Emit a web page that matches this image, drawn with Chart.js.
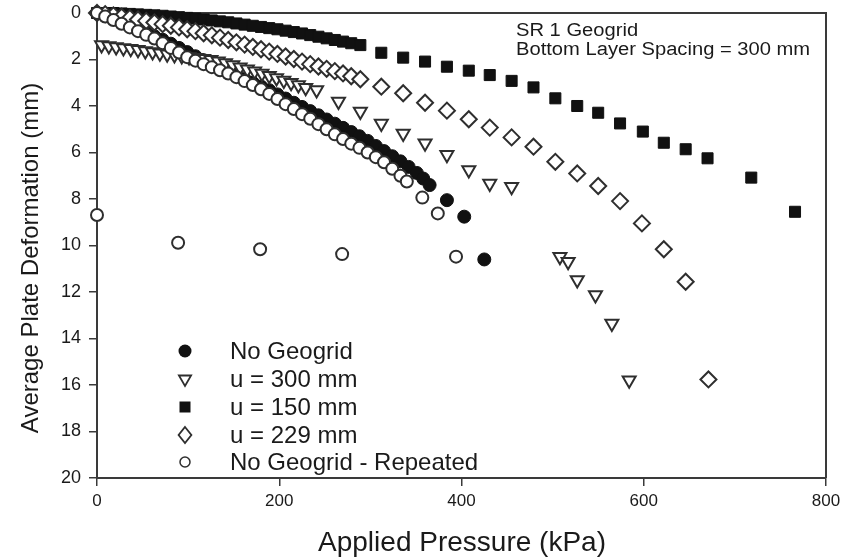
<!DOCTYPE html>
<html>
<head>
<meta charset="utf-8">
<script src="https://cdn.jsdelivr.net/npm/chart.js@4.4.1/dist/chart.umd.min.js"></script>
<style>
  html, body { margin: 0; padding: 0; background: #ffffff; }
  #wrap { width: 844px; height: 560px; position: relative; }
</style>
</head>
<body>
<div id="wrap"><canvas id="c" width="844" height="560"></canvas></div>
<script>
// ---- Data (Applied Pressure kPa, Average Plate Deformation mm) ----
const xTicks = [0, 200, 400, 600, 800];
const yTicks = [0, 2, 4, 6, 8, 10, 12, 14, 16, 18, 20];

const seriesNames = ["No Geogrid", "u = 300 mm", "u = 150 mm", "u = 229 mm", "No Geogrid - Repeated"];

const noGeoP = [0,9,18,27,36,45,54,63,72,81,90,99,108,117,126,135,144,153,162,171,180,189,198,207,216,225,234,243,252,261,270,279,288,297,306,315,324,333,342,351,358,365,384,403,425];
const noGeoD = [0,0.12,0.25,0.4,0.55,0.7,0.85,1.0,1.15,1.32,1.5,1.68,1.86,2.03,2.2,2.36,2.52,2.68,2.84,3.0,3.16,3.32,3.5,3.68,3.86,4.04,4.22,4.4,4.58,4.76,4.94,5.12,5.3,5.5,5.72,5.94,6.16,6.38,6.62,6.88,7.12,7.4,8.05,8.76,10.6];

const u300P = [5,13,21,29,37,45,53,61,69,77,85,93,101,109,117,125,133,141,149,157,165,173,181,189,197,205,213,221,229,241,265,289,312,336,360,384,408,431,455,508,517,527,547,565,584];
const u300D = [1.38,1.42,1.46,1.5,1.54,1.58,1.63,1.68,1.73,1.77,1.81,1.85,1.89,1.93,1.97,2.01,2.07,2.15,2.24,2.33,2.42,2.51,2.6,2.7,2.8,2.9,3.0,3.1,3.22,3.31,3.81,4.24,4.75,5.18,5.6,6.1,6.75,7.33,7.47,10.48,10.7,11.48,12.13,13.35,15.8];

const u150P = [0,9,18,27,36,45,54,63,72,81,90,99,108,117,126,135,144,153,162,171,180,189,198,207,216,225,234,243,252,261,270,279,289,312,336,360,384,408,431,455,479,503,527,550,574,599,622,646,670,718,766];
const u150D = [0,0,0,0.02,0.04,0.06,0.08,0.1,0.12,0.15,0.18,0.21,0.24,0.28,0.32,0.36,0.4,0.45,0.5,0.55,0.6,0.65,0.7,0.76,0.82,0.88,0.95,1.02,1.09,1.16,1.23,1.3,1.38,1.71,1.92,2.09,2.31,2.48,2.67,2.92,3.2,3.67,4.0,4.29,4.75,5.1,5.58,5.86,6.25,7.08,8.55];

const u229P = [0,9,18,27,36,45,54,63,72,81,90,99,108,117,126,135,144,153,162,171,180,189,198,207,216,225,234,243,252,261,270,279,289,312,336,360,384,408,431,455,479,503,527,550,574,598,622,646,671];
const u229D = [0,0.05,0.1,0.16,0.22,0.28,0.34,0.41,0.48,0.55,0.62,0.7,0.78,0.87,0.96,1.06,1.16,1.26,1.36,1.46,1.56,1.66,1.76,1.87,1.98,2.09,2.2,2.3,2.4,2.5,2.6,2.72,2.85,3.17,3.45,3.86,4.2,4.57,4.93,5.35,5.75,6.4,6.9,7.44,8.09,9.05,10.16,11.56,15.76];

const repP = [0,9,18,27,36,45,54,63,72,81,90,99,108,117,126,135,144,153,162,171,180,189,198,207,216,225,234,243,252,261,270,279,288,297,306,315,324,333,340,357,374,0,89,179,269,394];
const repD = [0,0.15,0.3,0.46,0.62,0.78,0.94,1.1,1.3,1.5,1.7,1.9,2.05,2.2,2.33,2.46,2.6,2.76,2.93,3.1,3.28,3.48,3.7,3.92,4.13,4.35,4.55,4.78,5.0,5.22,5.42,5.62,5.8,6.0,6.2,6.42,6.7,7.0,7.25,7.94,8.62,8.69,9.88,10.16,10.37,10.48];

const noteLines = ["SR 1 Geogrid", "Bottom Layer Spacing = 300 mm"];
const xTitle = "Applied Pressure (kPa)";
const yTitle = "Average Plate Deformation (mm)";

const pts = (P, D) => P.map((p, i) => ({ x: p, y: D[i] }));

const INK = "#111111";
const EDGE = "#2e2e2e";
const FONT = "'Liberation Sans', Arial, Helvetica, sans-serif";

const styles = [
  { pointStyle: 'circle',   radius: 6.5, bg: INK,  border: INK,  bw: 1,   rot: 0,   order: 4 },
  { pointStyle: 'triangle', radius: 7.5, bg: '#ffffff', border: EDGE, bw: 2, rot: 180, order: 1 },
  { pointStyle: 'rect',     radius: 7.8, bg: INK,  border: INK,  bw: 1,   rot: 0,   order: 3 },
  { pointStyle: 'rectRot',  radius: 8,   bg: '#ffffff', border: EDGE, bw: 2, rot: 0,   order: 2 },
  { pointStyle: 'circle',   radius: 6,   bg: '#ffffff', border: EDGE, bw: 2, rot: 0,   order: 0 }
];
const seriesData = [pts(noGeoP, noGeoD), pts(u300P, u300D), pts(u150P, u150D), pts(u229P, u229D), pts(repP, repD)];

const datasets = seriesNames.map((name, i) => ({
  label: name,
  data: seriesData[i],
  showLine: false,
  pointStyle: styles[i].pointStyle,
  pointRadius: styles[i].radius,
  pointHoverRadius: styles[i].radius,
  pointBackgroundColor: styles[i].bg,
  pointBorderColor: styles[i].border,
  pointBorderWidth: styles[i].bw,
  pointRotation: styles[i].rot,
  order: styles[i].order,
  clip: false
}));

// Legend + frame + titles + note
const decor = {
  id: 'decor',
  beforeDatasetsDraw(chart) {
    const { ctx, chartArea: a } = chart;
    ctx.save();
    ctx.strokeStyle = '#3a3a3a';
    ctx.lineWidth = 2;
    ctx.beginPath();
    ctx.moveTo(a.left, a.top);
    ctx.lineTo(a.right, a.top);
    ctx.lineTo(a.right, a.bottom);
    ctx.stroke();
    ctx.restore();
  },
  afterDraw(chart) {
    const { ctx } = chart;
    ctx.save();
    ctx.fillStyle = '#1a1a1a';
    // note (slightly wide lettering, as in the reference)
    ctx.textAlign = 'left';
    ctx.textBaseline = 'middle';
    ctx.save();
    ctx.translate(516, 0);
    ctx.scale(1.12, 1);
    ctx.font = "18px " + FONT;
    ctx.fillText(noteLines[0], 0, 31);
    ctx.fillText(noteLines[1], 0, 50);
    ctx.restore();
    // axis titles
    ctx.font = "28px " + FONT;
    ctx.textAlign = 'center';
    ctx.fillText(xTitle, 462, 543);
    ctx.save();
    ctx.translate(31, 258);
    ctx.rotate(-Math.PI / 2);
    ctx.font = "24px " + FONT;
    ctx.fillText(yTitle, 0, 0);
    ctx.restore();
    // legend
    const rowsY = [351, 379, 407, 435, 462];
    const mx = 185, tx = 230;
    ctx.font = "24px " + FONT;
    ctx.textAlign = 'left';
    for (let i = 0; i < seriesNames.length; i++) {
      const y = rowsY[i];
      ctx.lineWidth = 1.8;
      ctx.strokeStyle = EDGE;
      ctx.fillStyle = INK;
      ctx.beginPath();
      if (i === 0) {
        ctx.arc(mx, y, 6.5, 0, Math.PI * 2); ctx.fill();
      } else if (i === 1) {
        const r = 7;
        ctx.moveTo(mx - r * 0.87, y - r * 0.5);
        ctx.lineTo(mx + r * 0.87, y - r * 0.5);
        ctx.lineTo(mx, y + r);
        ctx.closePath();
        ctx.fillStyle = '#fff'; ctx.fill(); ctx.stroke();
      } else if (i === 2) {
        ctx.rect(mx - 5.5, y - 5.5, 11, 11); ctx.fill();
      } else if (i === 3) {
        const r = 8;
        ctx.moveTo(mx, y - r); ctx.lineTo(mx + r * 0.8, y); ctx.lineTo(mx, y + r); ctx.lineTo(mx - r * 0.8, y);
        ctx.closePath();
        ctx.fillStyle = '#fff'; ctx.fill(); ctx.stroke();
      } else {
        ctx.lineWidth = 1.5;
        ctx.arc(mx, y, 5, 0, Math.PI * 2);
        ctx.fillStyle = '#fff'; ctx.fill(); ctx.stroke();
      }
      ctx.fillStyle = '#1a1a1a';
      ctx.fillText(seriesNames[i], tx, y + 1);
    }
    ctx.restore();
  }
};

new Chart(document.getElementById('c'), {
  type: 'scatter',
  data: { datasets },
  options: {
    responsive: false,
    animation: false,
    devicePixelRatio: 1,
    layout: { padding: { left: 0, right: 18, top: 13, bottom: 0 } },
    plugins: { legend: { display: false }, tooltip: { enabled: false } },
    scales: {
      x: {
        type: 'linear', min: 0, max: 800,
        afterFit(s) { s.height = 82; s.paddingLeft = 0; s.paddingRight = 0; },
        afterBuildTicks(s) { s.ticks = xTicks.map(v => ({ value: v })); },
        ticks: { color: '#1a1a1a', font: { family: FONT, size: 17 }, padding: 5, maxRotation: 0 },
        grid: { display: true, drawOnChartArea: false, drawTicks: true, tickLength: 8, color: '#3a3a3a', lineWidth: 1.5 },
        border: { display: true, color: '#3a3a3a', width: 2 }
      },
      y: {
        type: 'linear', min: 0, max: 20, reverse: true,
        afterFit(s) { s.width = 97; s.paddingTop = 0; s.paddingBottom = 0; },
        afterBuildTicks(s) { s.ticks = yTicks.map(v => ({ value: v })); },
        ticks: { color: '#1a1a1a', font: { family: FONT, size: 18 }, padding: 8 },
        grid: { display: true, drawOnChartArea: false, drawTicks: true, tickLength: 8, color: '#3a3a3a', lineWidth: 1.5 },
        border: { display: true, color: '#3a3a3a', width: 2 }
      }
    }
  },
  plugins: [decor]
});
</script>
</body>
</html>
